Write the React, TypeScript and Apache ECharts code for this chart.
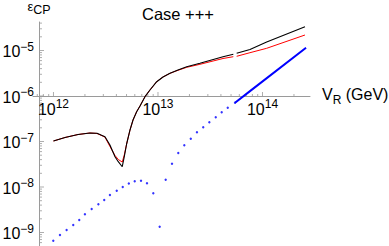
import React, { useEffect, useRef } from "react";
import * as echarts from "echarts";

// Shared x samples for the black and red curves (V_R in GeV)
const curveX = [
  1.0e12, 1.29e12, 1.72e12, 2.23e12, 2.61e12, 3.11e12, 3.47e12, 3.88e12, 4.17e12,
  4.55e12, 4.76e12, 5.01e12, 5.4e12, 5.77e12, 6.25e12, 6.73e12, 7.51e12, 8.38e12,
  9.72e12, 1.117e13, 1.303e13, 1.553e13, 1.883e13, 2.52e13, 4.19e13, 5.26e13,
  5.45e13, 5.66e13, 7.59e13, 1.096e14, 2.55e14,
];
const blackY: (number | null)[] = [
  1.025e-7, 1.225e-7, 1.426e-7, 1.538e-7, 1.514e-7, 1.274e-7, 8.38e-8, 4.63e-8, 3.6e-8,
  2.79e-8, 4.63e-8, 8.81e-8, 1.79e-7, 2.97e-7, 4.52e-7, 6.03e-7, 9.66e-7, 1.355e-6,
  2.06e-6, 2.62e-6, 3.15e-6, 3.72e-6, 4.4e-6, 5.23e-6, 7.31e-6, 8.24e-6,
  null, 8.67e-6, 1.052e-5, 1.54e-5, 3.33e-5,
];
const redY: (number | null)[] = [
  1.025e-7, 1.225e-7, 1.426e-7, 1.538e-7, 1.5e-7, 1.25e-7, 7.76e-8, 4.92e-8, 4.02e-8,
  3.54e-8, 5.05e-8, 8.81e-8, 1.79e-7, 2.97e-7, 4.52e-7, 6.03e-7, 9.66e-7, 1.355e-6,
  2.06e-6, 2.62e-6, 3.15e-6, 3.67e-6, 4.27e-6, 4.97e-6, 6.67e-6, 7.31e-6,
  null, 7.46e-6, 8.95e-6, 1.117e-5, 2.19e-5,
];
// Blue sampled points
const blueDotX = [
  9.96e11, 1.154e12, 1.336e12, 1.546e12, 1.765e12, 2.0e12, 2.32e12, 2.69e12, 3.06e12,
  3.47e12, 4.03e12, 4.6e12, 5.26e12, 5.99e12, 6.88e12, 7.85e12, 9.02e12, 1.038e13,
  1.185e13, 1.362e13, 1.564e13, 1.786e13, 2.06e13, 2.36e13, 2.71e13, 3.1e13,
  3.57e13, 4.07e13, 4.65e13, 5.46e13,
];
const blueDotY = [
  6.6e-10, 8.81e-10, 1.135e-9, 1.462e-9, 1.884e-9, 2.51e-9, 3.29e-9, 4.17e-9, 5.18e-9,
  6.67e-9, 8.3e-9, 1.0e-8, 1.194e-8, 1.334e-8, 1.374e-8, 1.205e-8, 7.28e-9, 1.34e-9,
  1.445e-8, 3.25e-8, 5.58e-8, 8.24e-8, 1.153e-7, 1.592e-7, 2.05e-7, 2.64e-7,
  3.4e-7, 4.39e-7, 5.53e-7, 7.13e-7,
];
// Blue solid segment
const blueLineX = [5.46e13, 7.59e13, 2.61e14];
const blueLineY = [7.13e-7, 1.28e-6, 1.153e-5];

const xTickExponents = [12, 13, 14];
const yTickExponents = [-9, -8, -7, -6, -5];

const X_MIN = 6.37e11;
const X_MAX = 2.848e14;
const Y_MIN = 5.05e-10;
const Y_MAX = 4.23e-5;
const X_AXIS_AT = 1e-6;

const FONT = "'Liberation Sans', Arial, Helvetica, sans-serif";
const AXIS_GRAY = "#9a9a9a";

function buildTicks(lo: number, hi: number) {
  const res: { v: number; major: boolean }[] = [];
  const d0 = Math.floor(Math.log10(lo)) - 1;
  const d1 = Math.ceil(Math.log10(hi)) + 1;
  for (let d = d0; d <= d1; d++) {
    for (let m = 1; m <= 9; m++) {
      const v = m * Math.pow(10, d);
      if (v > lo && v < hi) res.push({ v, major: m === 1 });
    }
  }
  return res;
}

export default function App() {
  const ref = useRef<HTMLDivElement>(null);
  useEffect(() => {
    if (!ref.current) return;
    const chart = echarts.init(ref.current, null, { renderer: "svg" });

    const xt = buildTicks(X_MIN, X_MAX);
    const yt = buildTicks(Y_MIN, Y_MAX);
    const yAxisX = Math.pow(10, 11.871);

    const supRich = {
      b: { fontSize: 16, lineHeight: 19, verticalAlign: "bottom", fontFamily: FONT, color: "#000" },
      s: { fontSize: 12, lineHeight: 12, verticalAlign: "top", fontFamily: FONT, color: "#000" },
    };

    const expOf = (v: number) => {
      const l = Math.log10(v);
      const e = Math.round(l);
      return Math.abs(l - e) < 1e-6 ? e : null;
    };

    const option: any = {
      animation: false,
      title: {
        text: "Case +++",
        left: 137,
        top: 0,
        textStyle: { fontFamily: FONT, fontSize: 16.5, fontWeight: "normal", color: "#000" },
      },
      grid: { left: 33, right: 79, top: 22, bottom: 0, containLabel: false, outerBoundsMode: "none" },
      xAxis: {
        type: "log",
        logBase: 10,
        min: X_MIN,
        max: X_MAX,
        position: "bottom",
        offset: -150,
        axisLine: { onZero: false, lineStyle: { color: AXIS_GRAY, width: 1 } },
        axisTick: { show: false },
        splitLine: { show: false },
        minorTick: { show: false },
        axisLabel: {
          margin: 2,
          showMinLabel: false,
          showMaxLabel: false,
          formatter: (v: number) => {
            const e = expOf(v);
            if (e === null || !xTickExponents.includes(e)) return "";
            return `{b|10}{s|${e}}`;
          },
          rich: supRich,
        },
        name: "{v|V}{r|R}{g| (GeV)}",
        nameLocation: "end",
        nameGap: 12,
        nameTextStyle: {
          rich: {
            v: { fontSize: 16, lineHeight: 19, verticalAlign: "top", fontFamily: FONT, color: "#000" },
            r: { fontSize: 12, lineHeight: 14, verticalAlign: "bottom", fontFamily: FONT, color: "#000" },
            g: { fontSize: 16, lineHeight: 19, verticalAlign: "top", fontFamily: FONT, color: "#000" },
          },
        },
      },
      yAxis: {
        type: "log",
        logBase: 10,
        min: Y_MIN,
        max: Y_MAX,
        position: "left",
        offset: -6,
        axisLine: { onZero: false, lineStyle: { color: AXIS_GRAY, width: 1 } },
        axisTick: { show: false },
        splitLine: { show: false },
        minorTick: { show: false },
        axisLabel: {
          margin: 5,
          showMinLabel: false,
          showMaxLabel: false,
          formatter: (v: number) => {
            const e = expOf(v);
            if (e === null || !yTickExponents.includes(e)) return "";
            return `{b|10}{s|\u2212${-e}}`;
          },
          rich: supRich,
        },
        name: "{e|\u03b5}{c|CP}",
        nameLocation: "end",
        nameGap: 6,
        nameTextStyle: {
          rich: {
            e: { fontSize: 13, lineHeight: 16, verticalAlign: "top", fontFamily: FONT, color: "#000" },
            c: { fontSize: 12.5, lineHeight: 12, verticalAlign: "bottom", fontFamily: FONT, color: "#000" },
          },
        },
      },
      series: [
        {
          type: "scatter",
          silent: true,
          symbol: "rect",
          data: xt.map((t) => ({
            value: [t.v, X_AXIS_AT],
            symbolSize: [1, t.major ? 4 : 2],
            symbolOffset: [0, t.major ? -2 : -1],
          })),
          itemStyle: { color: AXIS_GRAY },
          z: 1,
        },
        {
          type: "scatter",
          silent: true,
          symbol: "rect",
          data: yt.map((t) => ({
            value: [yAxisX, t.v],
            symbolSize: [t.major ? 4 : 2, 1],
            symbolOffset: [t.major ? 2 : 1, 0],
          })),
          itemStyle: { color: AXIS_GRAY },
          z: 1,
        },
        {
          type: "line",
          data: curveX.map((x, i) => [x, redY[i] === null ? "-" : redY[i]]),
          showSymbol: false,
          lineStyle: { color: "#ff0000", width: 1 },
          z: 3,
        },
        {
          type: "line",
          data: curveX.map((x, i) => [x, blackY[i] === null ? "-" : blackY[i]]),
          showSymbol: false,
          lineStyle: { color: "#000000", width: 1.1 },
          z: 4,
        },
        {
          type: "scatter",
          data: blueDotX.map((x, i) => [x, blueDotY[i]]),
          symbol: "circle",
          symbolSize: 2.4,
          itemStyle: { color: "#0000ff" },
          z: 3,
        },
        {
          type: "line",
          data: blueLineX.map((x, i) => [x, blueLineY[i]]),
          showSymbol: false,
          lineStyle: { color: "#0000ff", width: 2 },
          z: 3,
        },
      ],
    };
    chart.setOption(option);
    return () => chart.dispose();
  }, []);
  return (
    <div
      ref={ref}
      style={{ position: "fixed", left: 0, top: 0, width: 389, height: 246, background: "#fff" }}
    />
  );
}
